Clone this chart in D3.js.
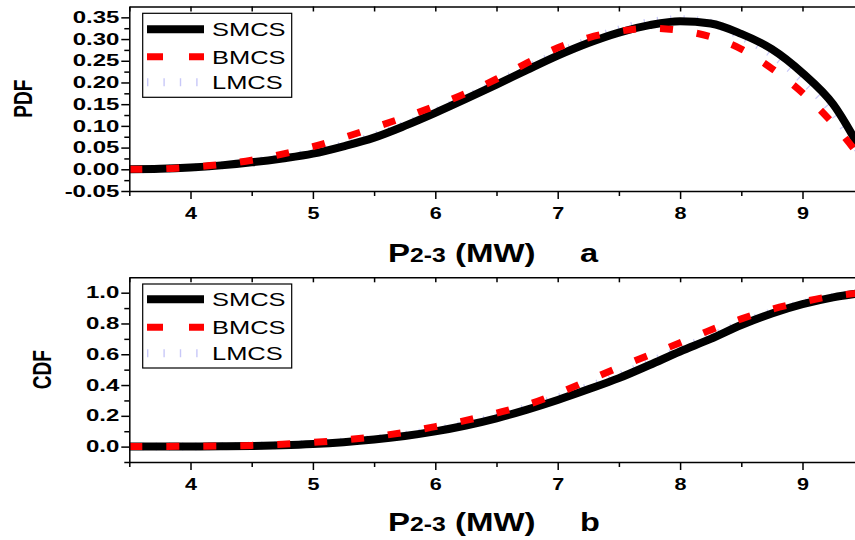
<!DOCTYPE html>
<html>
<head>
<meta charset="utf-8">
<script src="https://cdn.jsdelivr.net/npm/d3@7"></script>
<style>
  html, body { margin: 0; padding: 0; background: #fff; overflow: hidden; }
  svg { display: block; }
</style>
</head>
<body>
<svg id="chart" width="855" height="540"></svg>
<script>
// ---- data ---------------------------------------------------------------
// Line flow P2-3 (MW) sample grid
const power = [3.5, 3.75, 4.0, 4.25, 4.5, 4.75, 5.0, 5.25, 5.5, 5.75, 6.0, 6.25,
               6.5, 6.75, 7.0, 7.25, 7.5, 7.75, 8.0, 8.25, 8.5, 8.75, 9.0, 9.25, 9.5];

// Probability density
const pdfSMCS = [0.000, 0.001, 0.004, 0.009, 0.016, 0.025, 0.036, 0.053, 0.073, 0.100, 0.130, 0.162,
                 0.195, 0.229, 0.262, 0.291, 0.315, 0.332, 0.341, 0.336, 0.312, 0.277, 0.222, 0.150, 0.032];
const pdfBMCS = [0.000, 0.001, 0.005, 0.011, 0.021, 0.035, 0.052, 0.073, 0.096, 0.120, 0.146, 0.175,
                 0.208, 0.245, 0.280, 0.303, 0.318, 0.325, 0.320, 0.305, 0.277, 0.232, 0.176, 0.105, 0.018];
const pdfLMCS = [0.000, 0.001, 0.004, 0.009, 0.017, 0.027, 0.039, 0.056, 0.077, 0.103, 0.133, 0.165,
                 0.199, 0.234, 0.267, 0.297, 0.322, 0.339, 0.346, 0.337, 0.306, 0.265, 0.205, 0.130, 0.025];

// Cumulative distribution
const cdfSMCS = [0.000, 0.000, 0.001, 0.002, 0.004, 0.009, 0.017, 0.029, 0.046, 0.069, 0.099, 0.137,
                 0.184, 0.240, 0.303, 0.372, 0.445, 0.530, 0.618, 0.700, 0.790, 0.865, 0.925, 0.970, 1.000];
const cdfBMCS = [0.000, 0.001, 0.002, 0.004, 0.008, 0.016, 0.027, 0.043, 0.064, 0.093, 0.130, 0.170,
                 0.218, 0.272, 0.345, 0.430, 0.515, 0.595, 0.675, 0.758, 0.830, 0.893, 0.940, 0.978, 1.000];
const cdfLMCS = [0.000, 0.000, 0.001, 0.003, 0.006, 0.011, 0.020, 0.033, 0.051, 0.076, 0.107, 0.147,
                 0.196, 0.254, 0.318, 0.388, 0.462, 0.547, 0.633, 0.715, 0.800, 0.873, 0.930, 0.972, 1.000];

// Axis ticks
const xTicks = [4, 5, 6, 7, 8, 9];
const xMinorTicks = [3.5, 4.5, 5.5, 6.5, 7.5, 8.5, 9.5];
const pdfTicks = [-0.05, 0.00, 0.05, 0.10, 0.15, 0.20, 0.25, 0.30, 0.35];
const pdfMinorTicks = [-0.025, 0.025, 0.075, 0.125, 0.175, 0.225, 0.275, 0.325];
const cdfTicks = [0.0, 0.2, 0.4, 0.6, 0.8, 1.0];
const cdfMinorTicks = [-0.1, 0.1, 0.3, 0.5, 0.7, 0.9];

const seriesNames = ["SMCS", "BMCS", "LMCS"];
const xTitle = "P";
const xTitleSub = "2-3";
const xTitleUnit = " (MW)";

// ---- drawing ------------------------------------------------------------
const FONT = "'Liberation Sans', Arial, Helvetica, sans-serif";
const svg = d3.select("#chart");

const x = d3.scaleLinear().domain([3.5, 9.5]).range([129.3, 863.7]);

const styles = {
  SMCS: { stroke: "#000000", width: 8, dash: null, legendDash: null },
  BMCS: { stroke: "#ff0000", width: 7, dash: "13,24", legendDash: "16,26" },
  LMCS: { stroke: "#c8c8f8", width: 8, dash: "1.2,12", legendDash: "1.4,15" }
};

// stretch a text node horizontally about its own anchor point
function stretch(sel, sx) {
  sel.each(function () {
    const t = d3.select(this);
    const tx = +t.attr("x") || 0;
    const ty = +t.attr("y") || 0;
    t.attr("x", 0).attr("y", 0)
     .attr("transform", `translate(${tx},${ty}) scale(${sx},1)`);
  });
}

const panels = [
  {
    y: d3.scaleLinear().domain([-0.05, 0.375]).range([191, 6.5]),
    ticks: pdfTicks, minor: pdfMinorTicks, fmt: d => d.toFixed(2),
    label: "PDF", labelX: 22.5,
    data: { SMCS: pdfSMCS, BMCS: pdfBMCS, LMCS: pdfLMCS },
    legendTop: 13.3, rows: [29.3, 56.7, 82.3], letter: "a", titleY: 262
  },
  {
    y: d3.scaleLinear().domain([-0.1, 1.1]).range([462, 277.3]),
    ticks: cdfTicks, minor: cdfMinorTicks, fmt: d => d.toFixed(1),
    label: "CDF", labelX: 42,
    data: { SMCS: cdfSMCS, BMCS: cdfBMCS, LMCS: cdfLMCS },
    legendTop: 284, rows: [299.3, 327.3, 353.3], letter: "b", titleY: 531
  }
];

panels.forEach(p => {
  const g = svg.append("g");
  const [yBottom, yTopPx] = p.y.range();

  // curves (LMCS under SMCS, BMCS on top)
  const line = d3.line()
    .x((d, i) => x(power[i]))
    .y(d => p.y(d))
    .curve(d3.curveMonotoneX);

  ["LMCS", "SMCS", "BMCS"].forEach(name => {
    const s = styles[name];
    g.append("path")
      .datum(p.data[name])
      .attr("d", line)
      .attr("fill", "none")
      .attr("stroke", s.stroke)
      .attr("stroke-width", s.width)
      .attr("stroke-dasharray", s.dash)
      .attr("stroke-linecap", "butt")
      .attr("stroke-linejoin", "round");
  });

  // frame: top border with inward ticks, right border
  g.append("g")
    .attr("transform", `translate(0,${yTopPx})`)
    .call(d3.axisTop(x).tickValues(xTicks.concat(xMinorTicks)).tickSize(-5).tickSizeOuter(0).tickFormat(""));
  g.append("line")
    .attr("x1", x(9.5)).attr("x2", x(9.5))
    .attr("y1", yTopPx).attr("y2", yBottom)
    .attr("stroke", "#000").attr("stroke-width", 1.5);

  // bottom axis
  const xAxis = g.append("g")
    .attr("transform", `translate(0,${yBottom})`)
    .call(d3.axisBottom(x).tickValues(xTicks).tickSize(8).tickPadding(9).tickSizeOuter(0)
      .tickFormat(d3.format("d")));
  g.append("g")
    .attr("transform", `translate(0,${yBottom})`)
    .call(d3.axisBottom(x).tickValues(xMinorTicks).tickSize(5).tickSizeOuter(0).tickFormat(""))
    .select(".domain").remove();
  xAxis.selectAll("text")
    .attr("font-family", FONT).attr("font-size", 16).attr("font-weight", "bold")
    .attr("fill", "#000")
    .call(stretch, 1.35);

  // left axis
  const yAxis = g.append("g")
    .attr("transform", `translate(${x(3.5)},0)`)
    .call(d3.axisLeft(p.y).tickValues(p.ticks).tickSize(8).tickPadding(2).tickSizeOuter(0)
      .tickFormat(p.fmt));
  g.append("g")
    .attr("transform", `translate(${x(3.5)},0)`)
    .call(d3.axisLeft(p.y).tickValues(p.minor).tickSize(5).tickSizeOuter(0).tickFormat(""))
    .select(".domain").remove();
  yAxis.selectAll("text")
    .attr("font-family", FONT).attr("font-size", 16).attr("font-weight", "bold")
    .attr("fill", "#000")
    .call(stretch, 1.5);

  g.selectAll(".domain, .tick line")
    .attr("stroke", "#000").attr("stroke-width", 1.5);

  // y-axis title
  const yMid = (p.y.range()[0] + p.y.range()[1]) / 2;
  g.append("text")
    .attr("transform", `translate(${p.labelX},${yMid}) rotate(-90) scale(1,1.4)`)
    .attr("text-anchor", "middle").attr("dy", "0.35em")
    .attr("font-family", FONT).attr("font-size", 19).attr("font-weight", "bold")
    .text(p.label);

  // x-axis title
  const t = g.append("text")
    .attr("transform", `translate(388,${p.titleY}) scale(1.27,1)`)
    .attr("font-family", FONT).attr("font-size", 26).attr("font-weight", "bold");
  t.append("tspan").text(xTitle);
  t.append("tspan").attr("font-size", 19.5).text(xTitleSub);
  t.append("tspan").text(xTitleUnit);
  g.append("text")
    .attr("transform", `translate(580,${p.titleY}) scale(1.25,1)`)
    .attr("font-family", FONT).attr("font-size", 26).attr("font-weight", "bold")
    .text(p.letter);

  // legend
  const lg = g.append("g");
  lg.append("rect")
    .attr("x", 142.7).attr("y", p.legendTop)
    .attr("width", 149).attr("height", 84)
    .attr("fill", "#fff").attr("stroke", "#000").attr("stroke-width", 1.2);
  seriesNames.forEach((name, i) => {
    const s = styles[name];
    const ry = p.rows[i];
    lg.append("line")
      .attr("x1", 147).attr("x2", 204).attr("y1", ry).attr("y2", ry)
      .attr("stroke", s.stroke).attr("stroke-width", s.width)
      .attr("stroke-dasharray", s.legendDash);
    lg.append("text")
      .attr("x", 212).attr("y", ry).attr("dy", "0.36em")
      .attr("font-family", FONT).attr("font-size", 19)
      .text(name)
      .call(stretch, 1.34);
  });
});
</script>
</body>
</html>
